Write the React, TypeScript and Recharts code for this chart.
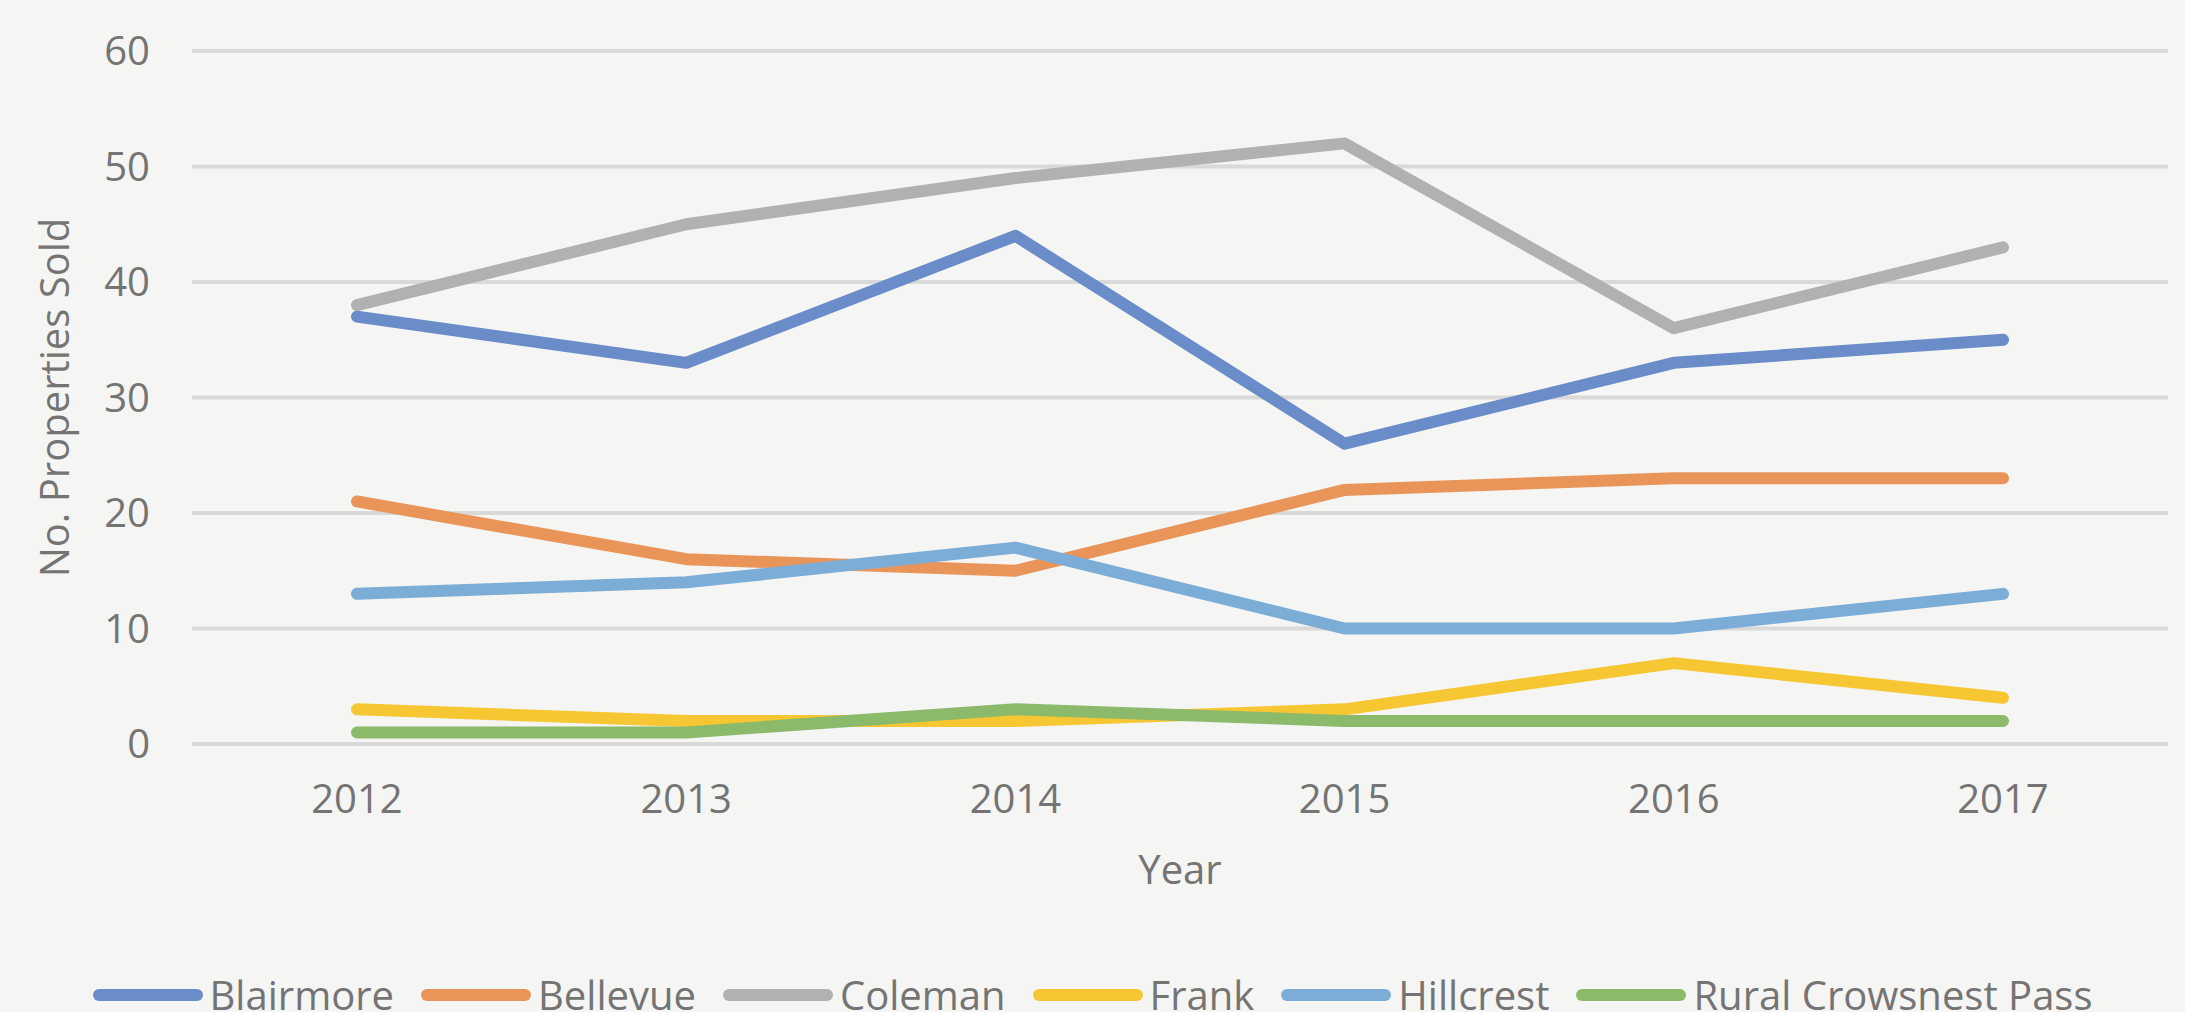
import * as React from 'react';
import { CartesianGrid, Label, Legend, Line, LineChart, XAxis, YAxis } from 'recharts';

const years = ['2012', '2013', '2014', '2015', '2016', '2017'];
const blairmore = [37, 33, 44, 26, 33, 35];
const bellevue = [21, 16, 15, 22, 23, 23];
const coleman = [38, 45, 49, 52, 36, 43];
const frank = [3, 2, 2, 3, 7, 4];
const hillcrest = [13, 14, 17, 10, 10, 13];
const rural = [1, 1, 3, 2, 2, 2];
const yTicks = [0, 10, 20, 30, 40, 50, 60];

const data = years.map((year, i) => ({
  year,
  blairmore: blairmore[i],
  bellevue: bellevue[i],
  coleman: coleman[i],
  frank: frank[i],
  hillcrest: hillcrest[i],
  rural: rural[i]
}));

const FONT = '"Open Sans", "Liberation Sans", sans-serif';
const TEXT = '#747474';

const series = [
  { key: 'blairmore', name: 'Blairmore', color: '#6a8dca' },
  { key: 'bellevue', name: 'Bellevue', color: '#e9955a' },
  { key: 'coleman', name: 'Coleman', color: '#b1b1b1' },
  { key: 'frank', name: 'Frank', color: '#f6c633' },
  { key: 'hillcrest', name: 'Hillcrest', color: '#7badd6' },
  { key: 'rural', name: 'Rural Crowsnest Pass', color: '#8bba6b' }
];
const seriesOrder = series.map((s) => s.name);

function renderLegend(props: any) {
  const payload = [...(props.payload || [])].sort(
    (a: any, b: any) => seriesOrder.indexOf(a.value) - seriesOrder.indexOf(b.value)
  );
  return (
    <div
      style={{
        display: 'flex',
        justifyContent: 'center',
        alignItems: 'center',
        fontFamily: FONT,
        fontSize: 40,
        lineHeight: '46px',
        color: TEXT,
        whiteSpace: 'nowrap'
      }}
    >
      {payload.map((p: any, i: number) => (
        <span
          key={p.value}
          style={{
            display: 'inline-flex',
            alignItems: 'center',
            marginRight: i < payload.length - 1 ? 27 : 0
          }}
        >
          <svg width={110} height={14}>
            <line x1={6} x2={104} y1={7} y2={7} stroke={p.color} strokeWidth={12} strokeLinecap="round" />
          </svg>
          <span style={{ marginLeft: 7 }}>{p.value}</span>
        </span>
      ))}
    </div>
  );
}

export default function App() {
  return (
    <div
      style={{
        position: 'absolute',
        left: 0,
        top: 0,
        width: 2185,
        height: 1012,
        background: '#f5f5f3',
        overflow: 'hidden'
      }}
    >
      <LineChart
        width={2185}
        height={1012}
        data={data}
        margin={{ top: 51, right: 17, left: 0, bottom: 142 }}
      >
        <CartesianGrid vertical={false} stroke="#d9d9d9" strokeWidth={4} />
        <XAxis
          dataKey="year"
          padding={{ left: 165, right: 165 }}
          axisLine={false}
          tickLine={false}
          tickSize={0}
          tickMargin={41}
          height={126}
          tick={{ fill: TEXT, fontSize: 40, fontFamily: FONT }}
        >
          <Label
            content={(props: any) => {
              const vb = props.viewBox;
              return (
                <text
                  x={vb.x + vb.width / 2}
                  y={vb.y + 140}
                  textAnchor="middle"
                  fill={TEXT}
                  fontSize={40}
                  fontFamily={FONT}
                >
                  Year
                </text>
              );
            }}
          />
        </XAxis>
        <YAxis
          domain={[0, 60]}
          ticks={yTicks}
          width={192}
          axisLine={false}
          tickLine={false}
          tickSize={0}
          tickMargin={42}
          tick={{ fill: TEXT, fontSize: 40, fontFamily: FONT }}
        >
          <Label
            content={(props: any) => {
              const vb = props.viewBox;
              const cy = vb.y + vb.height / 2;
              return (
                <text
                  x={69}
                  y={cy}
                  transform={`rotate(-90 69 ${cy})`}
                  textAnchor="middle"
                  fill={TEXT}
                  fontSize={40}
                  fontFamily={FONT}
                >
                  No. Properties Sold
                </text>
              );
            }}
          />
        </YAxis>
        <Legend
          layout="horizontal"
          verticalAlign="middle"
          align="center"
          content={renderLegend}
          wrapperStyle={{ top: 972, left: 0, width: 2185, height: 46 }}
        />
        {series.map((s) => (
          <Line
            key={s.key}
            type="linear"
            dataKey={s.key}
            name={s.name}
            stroke={s.color}
            strokeWidth={12}
            strokeLinecap="round"
            strokeLinejoin="round"
            dot={false}
            activeDot={false}
            isAnimationActive={false}
          />
        ))}
      </LineChart>
    </div>
  );
}
